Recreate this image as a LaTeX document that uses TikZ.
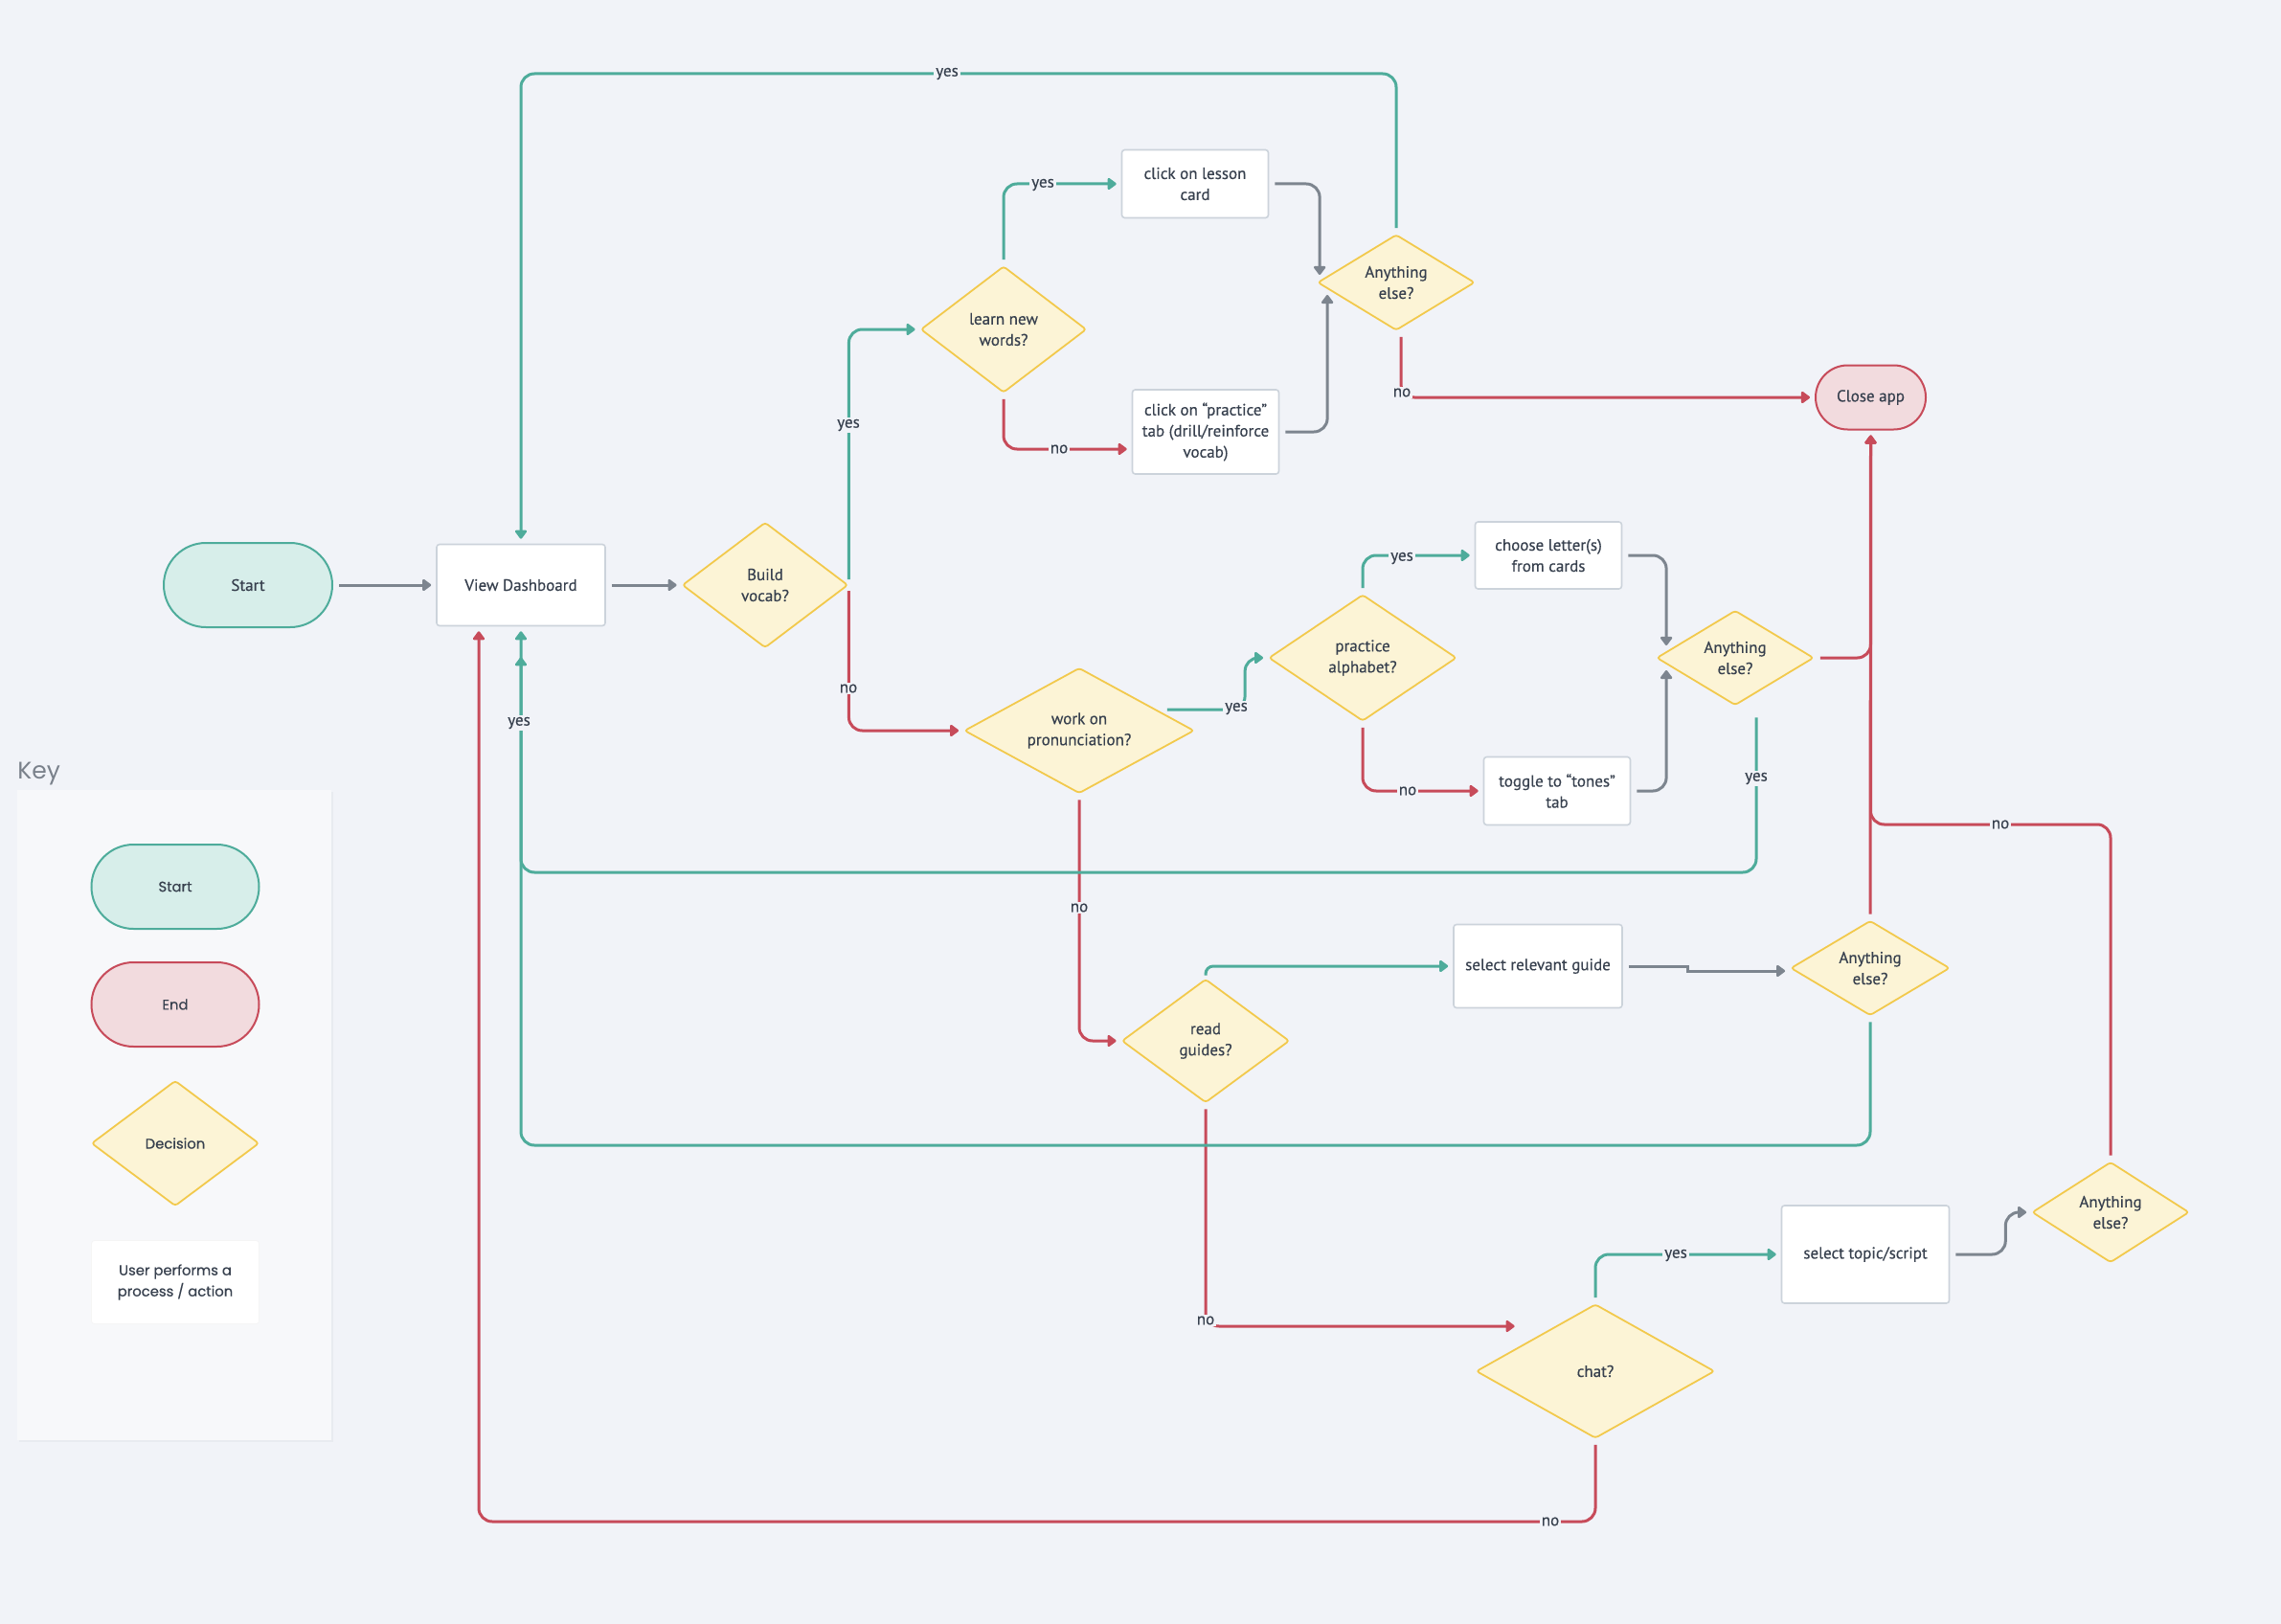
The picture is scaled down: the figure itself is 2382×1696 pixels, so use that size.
\documentclass[tikz,border=0pt]{standalone}
\usepackage{fontspec}
\usetikzlibrary{shapes.geometric,arrows.meta,calc}
\newfontfamily\ptsansf[FakeBold=0.35]{PT Sans}
\newfontfamily\poppf[FakeBold=0.5]{Poppins}
\newfontfamily\poppkf{Poppins}
\newcommand\fcmain{\ptsansf\fontsize{8.5}{11}\selectfont}
\newcommand\fckey{\poppf\fontsize{7.4}{11}\selectfont}
\definecolor{cbg}{HTML}{F1F3F8}
\definecolor{cteal}{HTML}{4EAC9B}
\definecolor{cred}{HTML}{C74B5A}
\definecolor{cgray}{HTML}{7D858F}
\definecolor{ctext}{HTML}{37404E}
\definecolor{cstartf}{HTML}{D7EEEA}
\definecolor{cendf}{HTML}{F2DBDE}
\definecolor{cdecf}{HTML}{FCF4D6}
\definecolor{cdecb}{HTML}{F2C94C}
\definecolor{cboxb}{HTML}{CCD3DB}
\definecolor{clegf}{HTML}{F7F8FA}
\definecolor{clegs}{HTML}{E8EBF0}
\definecolor{ckey}{HTML}{7A818B}
\tikzset{
  term/.style={rectangle, rounded corners=22pt, minimum width=87.5pt, minimum height=44pt, line width=1pt, font=\fcmain, text=ctext},
  startnode/.style={term, draw=cteal, fill=cstartf},
  endnode/.style={term, draw=cred, fill=cendf},
  decision/.style={diamond, draw=cdecb, fill=cdecf, line width=0.9pt, inner sep=0pt, rounded corners=1.5pt, align=center, font=\fcmain, text=ctext},
  proc/.style={rectangle, rounded corners=1.5pt, draw=cboxb, fill=white, line width=0.8pt, align=center, inner sep=0pt, font=\fcmain, text=ctext},
  conn/.style={line width=1.5pt, rounded corners=7pt, shorten >=2.5pt, shorten <=3pt, -{Triangle[length=5pt,width=7pt,round]}},
  tconn/.style={conn, draw=cteal, color=cteal},
  rconn/.style={conn, draw=cred, color=cred},
  gconn/.style={conn, draw=cgray, color=cgray},
  lbl/.style={fill=cbg, inner sep=1pt, font=\fcmain, text=ctext}
}
\begin{document}
\begin{tikzpicture}[x=0.5pt,y=-0.5pt]
\useasboundingbox (0,0) rectangle (2382,1696);
\fill[cbg] (0,0) rectangle (2382,1696);

% ---------- legend ----------
\fill[clegs] (20,827) rectangle (348,1506);
\fill[clegf] (18,825) rectangle (346,1504);
\node[anchor=west, text=ckey, font=\poppkf\fontsize{12.5}{14}\selectfont, inner sep=0pt] (keylbl) at (18,808) {Key};
\node[startnode, font=\fckey] (kstart) at (183,926) {Start};
\node[endnode, font=\fckey] (kend) at (183,1049) {End};
\node[decision, font=\fckey, minimum width=87.5pt, minimum height=65.5pt] (kdec) at (183,1194) {Decision};
\node[proc, draw=white!96!black, line width=0.4pt, font=\fckey, minimum width=87.5pt, minimum height=43.5pt] (kproc) at (183,1339) {User performs a\\process / action};

% ---------- main nodes ----------
\node[startnode, minimum width=88pt] (start) at (259,611) {Start};
\node[proc, minimum width=88pt, minimum height=42.5pt] (dash) at (544,611) {View Dashboard};
\node[decision, minimum width=86.5pt, minimum height=65.5pt] (build) at (799,611) {Build\\vocab?};
\node[decision, minimum width=86.5pt, minimum height=66pt] (learn) at (1048,344) {learn new\\words?};
\node[proc, minimum width=76.5pt, minimum height=35.5pt] (lesson) at (1248,192) {click on lesson\\card};
\node[proc, minimum width=76.5pt, minimum height=44pt] (practice) at (1259,451) {click on “practice”\\tab (drill/reinforce\\vocab)};
\node[decision, shape aspect=1.64, minimum width=82pt, minimum height=50pt] (any1) at (1458,295) {Anything\\else?};
\node[endnode, minimum width=57.5pt, minimum height=33.5pt, rounded corners=16.7pt] (close) at (1953.5,415) {Close app};
\node[decision, shape aspect=1.83, minimum width=120pt, minimum height=65.5pt] (pron) at (1127,763) {work on\\pronunciation?};
\node[decision, shape aspect=1.48, minimum width=98pt, minimum height=66pt] (alpha) at (1423,687) {practice\\alphabet?};
\node[proc, minimum width=76.5pt, minimum height=35pt] (choose) at (1617,580) {choose letter(s)\\from cards};
\node[proc, minimum width=76.5pt, minimum height=35.5pt] (tones) at (1626,826) {toggle to “tones”\\tab};
\node[decision, shape aspect=1.65, minimum width=82pt, minimum height=49.5pt] (any2) at (1812,687) {Anything\\else?};
\node[decision, minimum width=87.5pt, minimum height=64.5pt] (guides) at (1259,1087) {read\\guides?};
\node[proc, minimum width=88pt, minimum height=43.5pt] (guide) at (1606,1009) {select relevant guide};
\node[decision, shape aspect=1.67, minimum width=83pt, minimum height=49.5pt] (any3) at (1953,1011) {Anything\\else?};
\node[decision, shape aspect=1.78, minimum width=124.5pt, minimum height=70pt] (chat) at (1666,1432) {chat?};
\node[proc, minimum width=87.5pt, minimum height=51pt] (topic) at (1948,1310) {select topic/script};
\node[decision, shape aspect=1.56, minimum width=82pt, minimum height=52.5pt] (any4) at (2204,1266) {Anything\\else?};

% ---------- helper coordinates ----------
\coordinate (toprow) at (1000,77);
\coordinate (yrow2) at (1000,911);
\coordinate (yrow3) at (1000,1196);
\coordinate (nrowc) at (1000,1589);
\coordinate (nrow4) at (2000,861);

% ---------- connectors ----------
\draw[gconn] (start.east) -- (dash.west);
\draw[gconn] (dash.east) -- (build.west);
\draw[tconn] (build.east) |- (learn.west);
\draw[rconn] (build.east) |- (pron.west);
\draw[tconn] (learn.north) |- (lesson.west);
\draw[rconn] (learn.south) |- ($(practice.west)+(0,18)$);
\draw[gconn] (lesson.east) -| ($(any1.west)+(3,-3)$);
\draw[gconn] (practice.east) -| ($(any1.west)+(11,8)$);
\draw[tconn] (any1.north) |- (toprow) -| (dash.north);
\draw[rconn] ($(any1.south)+(5,0)$) |- (close.west);
\draw[tconn] ($(pron.east)+(-35,-22)$) -| ($(alpha.west)+(-24,0)$) -- (alpha.west);
\draw[rconn] (pron.south) |- (guides.west);
\draw[tconn] (alpha.north) |- (choose.west);
\draw[rconn] (alpha.south) |- (tones.west);
\draw[gconn] (choose.east) -| ($(any2.west)+(11,-8)$);
\draw[gconn] (tones.east) -| ($(any2.west)+(11,8)$);
\draw[rconn] (any2.east) -| (close.south);
\draw[tconn, shorten <=0pt] ($(any2.south)+(22,12)$) |- (yrow2) -| ($(dash.south)+(0,27)$);
\draw[tconn, shorten <=0pt, rounded corners=4pt] ($(guides.north)+(0,-3)$) |- (guide.west);
\draw[rconn] (guides.south) |- ($(chat.west)+(46,-47)$);
\draw[gconn, rounded corners=0pt] (guide.east) -- ++(68,0) -- ++(0,5) -- ($(any3.west)+(0,3)$);
\draw[rconn] (any3.north) -- (close.south);
\draw[tconn] (any3.south) |- (yrow3) -| (dash.south);
\draw[tconn] (chat.north) |- (topic.west);
\draw[rconn] (chat.south) |- (nrowc) -| ($(dash.south)+(-44,0)$);
\draw[gconn] (topic.east) -- ++(58,0) |- (any4.west);
\draw[rconn] (any4.north) |- (nrow4) -| (close.south);

% ---------- connector labels ----------
\node[lbl] (l1) at (886,444) {yes};
\node[lbl] (l2) at (886,719) {no};
\node[lbl] (l3) at (1089,193) {yes};
\node[lbl] (l4) at (1106,469) {no};
\node[lbl] (l5) at (989,77) {yes};
\node[lbl] (l6) at (1464,410) {no};
\node[lbl] (l7) at (1291,740) {yes};
\node[lbl] (l8) at (1127,948) {no};
\node[lbl] (l9) at (1464,583) {yes};
\node[lbl] (l10) at (1470,826) {no};
\node[lbl] (l11) at (1834,813) {yes};
\node[lbl] (l12) at (542,755) {yes};
\node[lbl] (l13) at (1259,1379) {no};
\node[lbl] (l14) at (1750,1311) {yes};
\node[lbl] (l15) at (1619,1589) {no};
\node[lbl] (l16) at (2089,861) {no};
\end{tikzpicture}
\end{document}
